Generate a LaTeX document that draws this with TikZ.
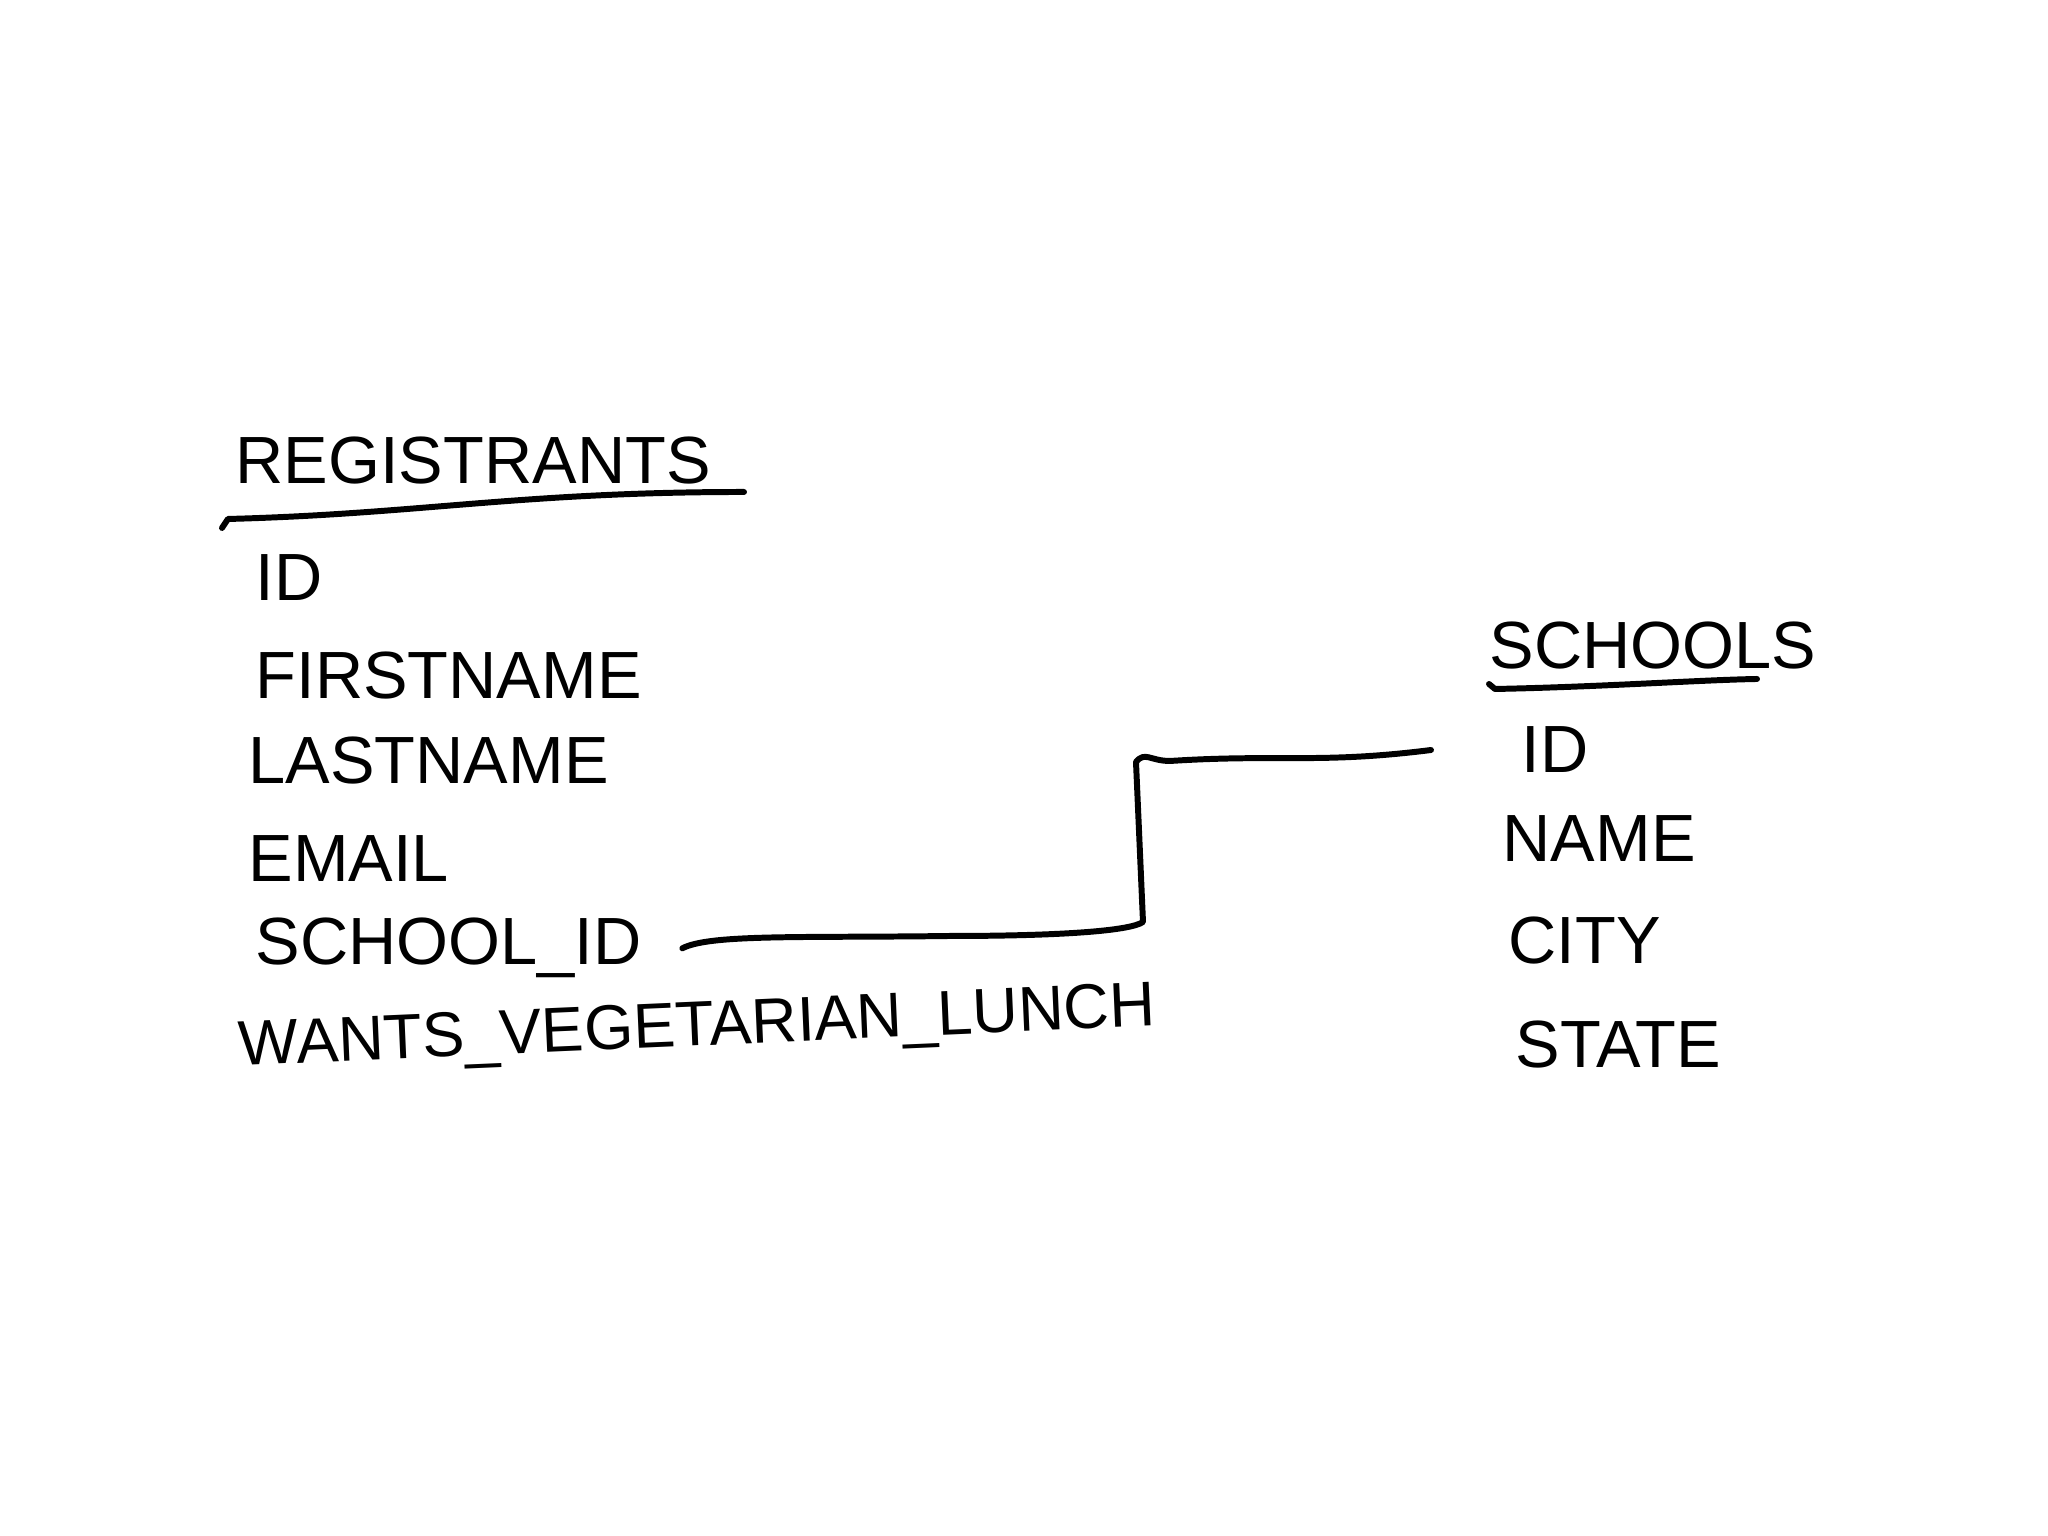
\documentclass[tikz,border=0pt]{standalone}
\usepackage{fontspec}
\setmainfont{Liberation Sans}
\usetikzlibrary{positioning}
\tikzset{
  field/.style={anchor=base west, inner sep=0pt, font=\fontsize{19}{19}\selectfont},
  link/.style={line width=1.7pt, line cap=round, line join=round}
}
\begin{document}
\begin{tikzpicture}
            \useasboundingbox[fill=white] (0,0) rectangle (20.48,15.36);
            \node[field] (reg) at (2.35,10.52) {REGISTRANTS};
            \draw[link] (2.22,10.08) -- (2.28,10.17) .. controls (4.2,10.22) and (5.2,10.44) .. (7.44,10.44);
            \node[field] (rid) at (2.55,9.35) {ID};
            \node[field] (rfirst) at (2.55,8.37) {FIRSTNAME};
            \node[field] (rlast) at (2.48,7.52) {LASTNAME};
            \node[field] (remail) at (2.48,6.54) {EMAIL};
            \node[field] (rsid) at (2.55,5.71) {SCHOOL\_ID};
            \node[field, rotate=2.5, font=\fontsize{18}{18}\selectfont] (rveg) at (2.39,4.70) {WANTS\_VEGETARIAN\_LUNCH};
            \node[field] (sch) at (14.89,8.67) {SCHOOLS};
            \draw[link] (14.89,8.52) -- (14.95,8.47) .. controls (16,8.49) and (17,8.56) .. (17.57,8.57);
            \node[field] (sid) at (15.21,7.63) {ID};
            \node[field] (sname) at (15.02,6.74) {NAME};
            \node[field] (scity) at (15.08,5.72) {CITY};
            \node[field] (sstate) at (15.15,4.68) {STATE};
            \coordinate[right=0.4cm of rsid] (fk);
            \coordinate[left=0.9cm of sid] (pk);
            \coordinate (bendlow) at (11.43,6.14);
            \coordinate (bendhigh) at (11.36,7.74);
            \draw[link] (fk) .. controls (7.1,6.02) and (8,5.98) .. (9.5,6.0) .. controls (10.6,6.0) and (11.3,6.05) .. (bendlow) -- (bendhigh) .. controls (11.45,7.85) and (11.5,7.75) .. (11.7,7.75) .. controls (12.8,7.82) and (13.2,7.72) .. (pk);
        \end{tikzpicture}
\end{document}
